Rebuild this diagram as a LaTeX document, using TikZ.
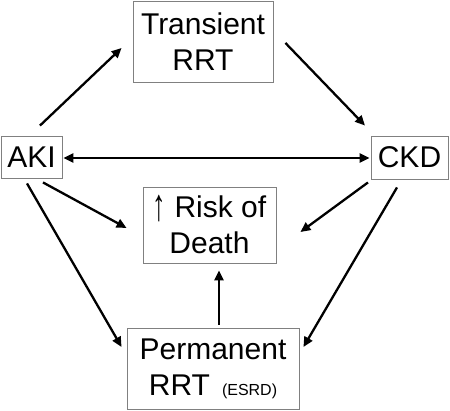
\documentclass[tikz,border=0pt]{standalone}
\usepackage{fontspec}
\setmainfont{Liberation Sans}
\usetikzlibrary{arrows.meta,calc}
\begin{document}
\begin{tikzpicture}[x=1pt,y=-1pt,
  box/.style={draw=black!50,line width=0.9pt,fill=white,inner sep=0pt,align=center,
    font=\fontsize{30}{36}\selectfont},
  arr/.style={line width=2.3pt,-{Triangle[length=10pt,width=9pt]}},
  darr/.style={line width=2.3pt,{Triangle[length=10pt,width=9pt]}-{Triangle[length=10pt,width=9pt]}}]
\useasboundingbox (0,0) rectangle (450,411);
\node[box,minimum width=140pt,minimum height=81pt] (trans) at (203,41.5) {Transient\\RRT};
\node[box,minimum width=61pt,minimum height=42pt] (aki) at (31.5,157) {AKI};
\node[box,minimum width=77pt,minimum height=43pt] (ckd) at (409.5,157.5) {CKD};
\node[box,minimum width=133pt,minimum height=76pt] (risk) at (209.5,225)
  {\raisebox{-3pt}{\scalebox{0.9}[1.5]{↑}} Risk of\\Death};
\node[box,minimum width=172pt,minimum height=81pt] (perm) at (213,368.5)
  {Permanent\\RRT\hspace{12pt}{\fontsize{16}{16}\selectfont(ESRD)}};
\draw[arr] ([shift={(8.5,-10)}]aki.north) -- ([shift={(-11,6.5)}]trans.west);
\draw[arr] ([shift={(12,1.5)}]trans.east) -- ([shift={(-44.5,-10)}]ckd.north);
\draw[darr] ([shift={(1,1)}]aki.east) -- ([shift={(-1,0.5)}]ckd.west);
\draw[arr] ([shift={(11.5,4)}]aki.south) -- ([shift={(-16,3)}]risk.west);
\draw[arr] ([shift={(-41.5,3)}]ckd.south) -- ([shift={(24,7)}]risk.east);
\draw[arr] ([shift={(-4.5,5)}]aki.south) -- ([shift={(-5,-21.5)}]perm.west);
\draw[arr] ([shift={(-12.5,8)}]ckd.south) -- ([shift={(4,-21.5)}]perm.east);
\draw[arr] ([shift={(6,-3)}]perm.north) -- ([shift={(9.5,7)}]risk.south);
\end{tikzpicture}
\end{document}
